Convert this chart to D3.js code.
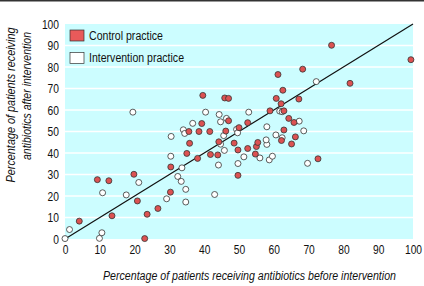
<!DOCTYPE html>
<html>
<head>
<meta charset="utf-8">
<script src="https://cdn.jsdelivr.net/npm/d3@7"></script>
<style>
  body { margin: 0; background: #fff; }
  svg { display: block; }
  text { font-family: "Liberation Sans", Arial, sans-serif; fill: #111; }
</style>
</head>
<body>
<svg width="424" height="286"></svg>
<script>
// control practices: [before, after]
var control = [
    [4.1, 8.3], [9.3, 27.6], [12.6, 27.1], [13.5, 10.8], [19.8, 30.1], [20.8, 17.7],
    [22.9, 0.2], [23.6, 11.5], [26.7, 14.2], [30.3, 21.8], [30.4, 33.5], [35.0, 39.8],
    [35.8, 44.5], [38.1, 37.5], [41.8, 39.3], [43.9, 39.1], [44.2, 45.2], [48.6, 44.6],
    [49.7, 41.4], [49.7, 29.6], [52.5, 42.1], [54.7, 39.5], [55.0, 43.0], [55.4, 44.9],
    [35.6, 50.0], [38.5, 50.0], [41.6, 50.0], [46.2, 50.2], [39.3, 53.7], [47.0, 55.0],
    [50.0, 51.8], [52.5, 54.1], [39.6, 66.8], [45.9, 65.6], [47.0, 65.4], [58.9, 59.6],
    [62.9, 59.6], [64.3, 56.1], [65.8, 54.2], [62.9, 50.7], [66.2, 47.5], [62.2, 45.8],
    [65.1, 44.2], [72.7, 37.3], [60.7, 65.4], [62.1, 62.9], [67.2, 65.1], [62.6, 69.2],
    [61.2, 76.5], [68.3, 79.0], [76.6, 90.1], [81.9, 72.4], [99.4, 83.4]
];

// intervention practices: [before, after]
var intervention = [
    [0, 0.2], [1.3, 4.4], [9.9, 0.3], [10.6, 2.9], [10.8, 21.5], [17.6, 20.5],
    [21.2, 26.3], [29.2, 18.7], [30.4, 38.5], [32.4, 29.1], [33.6, 33.1], [33.4, 26.8],
    [34.7, 23.1], [34.7, 17.2], [43.0, 20.7], [44.1, 34.4], [45.8, 41.2], [44.7, 44.1],
    [49.7, 35.1], [51.4, 38.2], [56.0, 37.7], [58.7, 36.8], [59.6, 38.5], [58.0, 44.0],
    [57.8, 46.1], [62.4, 47.1], [60.6, 48.4], [68.6, 50.3], [58.0, 52.2], [69.7, 35.2],
    [30.5, 47.7], [34.0, 50.8], [34.4, 49.1], [36.7, 53.8], [40.4, 59.0], [19.5, 59.0],
    [44.3, 57.9], [46.4, 56.1], [44.7, 54.5], [45.6, 48.1], [49.3, 51.0], [49.6, 49.4],
    [52.8, 59.0], [61.7, 59.5], [62.4, 59.2], [67.3, 54.8], [72.2, 73.2]
];

var xTicks = [0, 10, 20, 30, 40, 50, 60, 70, 80, 90, 100];
var yTicks = [0, 10, 20, 30, 40, 50, 60, 70, 80, 90, 100];
var legendLabels = ["Control practice", "Intervention practice"];

var svg = d3.select("svg");
var x = d3.scaleLinear().domain([0, 100]).range([65, 413]);
var y = d3.scaleLinear().domain([0, 100]).range([239, 24]);

var RED = "#dc5252";
// the original uses a condensed face, squeeze text to fit
function squeeze(sel, w) {
    sel.attr("textLength", w).attr("lengthAdjust", "spacingAndGlyphs");
}

// top rule
svg.append("rect").attr("x", 0).attr("y", 0).attr("width", 424).attr("height", 1.5).attr("fill", "#333");

// plot background
svg.append("rect")
    .attr("x", x(0)).attr("y", y(100))
    .attr("width", x(100) - x(0)).attr("height", y(0) - y(100))
    .attr("fill", "#ccfdff");

// grid
svg.append("g")
    .selectAll("line")
    .data(yTicks.slice(1, -1))
    .enter()
    .append("line")
    .attr("x1", x(0)).attr("x2", x(100))
    .attr("y1", function (d) { return y(d); })
    .attr("y2", function (d) { return y(d); })
    .attr("stroke", "#fff")
    .attr("stroke-width", 1.5);

// axes
var xAxis = svg.append("g")
    .attr("transform", "translate(0," + (y(0) + 4) + ")")
    .call(d3.axisBottom(x).tickValues(xTicks).tickSize(0).tickPadding(0));
xAxis.select(".domain").remove();
xAxis.selectAll("text").attr("font-size", 12.5).attr("dy", "0.9em")
    .attr("textLength", function (d) { return String(d).length * 5.7; })
    .attr("lengthAdjust", "spacingAndGlyphs");

var yAxis = svg.append("g")
    .attr("transform", "translate(" + (x(0) - 6) + ",0)")
    .call(d3.axisLeft(y).tickValues(yTicks).tickSize(0).tickPadding(0));
yAxis.select(".domain").remove();
yAxis.selectAll("text").attr("font-size", 12.5)
    .attr("textLength", function (d) { return String(d).length * 5.7; })
    .attr("lengthAdjust", "spacingAndGlyphs");
svg.selectAll(".tick text").style("font-family", '"Liberation Sans", Arial, sans-serif');

// legend
var legend = svg.append("g")
    .selectAll("g")
    .data(legendLabels)
    .enter()
    .append("g")
    .attr("transform", function (d, i) { return "translate(70," + (30 + i * 22.5) + ")"; });
legend.append("rect")
    .attr("width", 14).attr("height", 11)
    .attr("fill", function (d, i) { return i === 0 ? "#e85a5a" : "#fff"; })
    .attr("stroke", "#333").attr("stroke-width", 0.7);
legend.append("text")
    .attr("x", 19).attr("y", 5.5).attr("dy", "0.35em")
    .attr("font-size", 12.5)
    .attr("textLength", function (d, i) { return i === 0 ? 74 : 95; })
    .attr("lengthAdjust", "spacingAndGlyphs")
    .text(function (d) { return d; });

// y = x reference line
svg.append("line")
    .attr("x1", x(0)).attr("y1", y(0))
    .attr("x2", x(100)).attr("y2", y(100))
    .attr("stroke", "#111").attr("stroke-width", 1.2);

// points
svg.append("g")
    .selectAll("circle")
    .data(intervention)
    .enter()
    .append("circle")
    .attr("cx", function (d) { return x(d[0]); })
    .attr("cy", function (d) { return y(d[1]); })
    .attr("r", 3)
    .attr("fill", "#fff")
    .attr("stroke", "#333").attr("stroke-width", 0.8);

svg.append("g")
    .selectAll("circle")
    .data(control)
    .enter()
    .append("circle")
    .attr("cx", function (d) { return x(d[0]); })
    .attr("cy", function (d) { return y(d[1]); })
    .attr("r", 3)
    .attr("fill", RED)
    .attr("stroke", "#333").attr("stroke-width", 0.8);

// axis titles
svg.append("text")
    .attr("x", 249.5).attr("y", 280)
    .attr("text-anchor", "middle")
    .attr("font-size", 12.5).attr("font-style", "italic")
    .call(squeeze, 293)
    .text("Percentage of patients receiving antibiotics before intervention");

var yt = svg.append("text")
    .attr("transform", "translate(0,105) rotate(-90)")
    .attr("text-anchor", "middle")
    .attr("font-size", 12.5).attr("font-style", "italic");
yt.append("tspan").attr("x", 0).attr("y", 15).call(squeeze, 155).text("Percentage of patients receiving");
yt.append("tspan").attr("x", 9).attr("y", 31).call(squeeze, 128).text("antibiotics after intervention");
</script>
</body>
</html>
